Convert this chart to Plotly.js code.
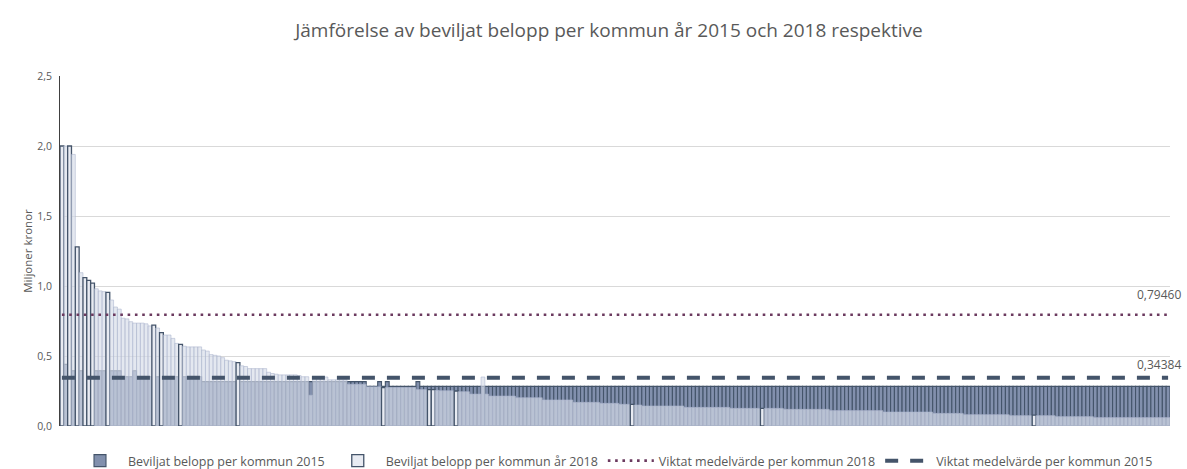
<!DOCTYPE html>
<html>
<head>
<meta charset="utf-8">
<script src="https://cdn.plot.ly/plotly-3.0.1.min.js"></script>
<style>html,body{margin:0;padding:0;background:#fff}#chart{width:1187px;height:469px}</style>
</head>
<body>
<div id="chart"></div>
<script>
// Beviljat belopp per kommun år 2018 (miljoner kronor), 290 kommuner i diagrammets ordning
const belopp2018 = [
  2.00, 2.00, 2.00, 1.94, 1.28, 1.095, 1.06, 1.04, 1.02, 0.98,
  0.965, 0.96, 0.955, 0.90, 0.85, 0.835, 0.77, 0.765, 0.745, 0.735,
  0.735, 0.735, 0.73, 0.715, 0.72, 0.70, 0.667, 0.65, 0.65, 0.626,
  0.59, 0.583, 0.57, 0.565, 0.565, 0.565, 0.565, 0.543, 0.535, 0.51,
  0.505, 0.50, 0.488, 0.47, 0.465, 0.46, 0.452, 0.43, 0.425, 0.41,
  0.41, 0.41, 0.41, 0.41, 0.384, 0.375, 0.37, 0.365, 0.365, 0.365,
  0.365, 0.365, 0.36, 0.352, 0.352, 0.22, 0.35, 0.35, 0.35, 0.35,
  0.33, 0.33, 0.33, 0.33, 0.33, 0.298, 0.298, 0.298, 0.298, 0.298,
  0.28, 0.28, 0.28, 0.28, 0.275, 0.275, 0.275, 0.275, 0.275, 0.275,
  0.275, 0.275, 0.275, 0.26, 0.26, 0.26, 0.26, 0.26, 0.255, 0.252,
  0.252, 0.252, 0.252, 0.25, 0.245, 0.245, 0.245, 0.228, 0.228, 0.228,
  0.35, 0.228, 0.214, 0.214, 0.214, 0.214, 0.214, 0.214, 0.214, 0.202,
  0.202, 0.202, 0.202, 0.202, 0.202, 0.202, 0.186, 0.186, 0.186, 0.186,
  0.186, 0.186, 0.186, 0.186, 0.169, 0.169, 0.169, 0.169, 0.169, 0.169,
  0.169, 0.162, 0.162, 0.162, 0.162, 0.162, 0.155, 0.155, 0.155, 0.155,
  0.15, 0.15, 0.143, 0.143, 0.143, 0.143, 0.143, 0.143, 0.143, 0.143,
  0.143, 0.143, 0.143, 0.133, 0.133, 0.133, 0.133, 0.133, 0.133, 0.133,
  0.133, 0.133, 0.133, 0.133, 0.133, 0.126, 0.126, 0.126, 0.126, 0.126,
  0.126, 0.126, 0.126, 0.126, 0.126, 0.126, 0.126, 0.126, 0.126, 0.119,
  0.119, 0.119, 0.119, 0.119, 0.119, 0.119, 0.119, 0.119, 0.119, 0.119,
  0.119, 0.11, 0.11, 0.11, 0.11, 0.11, 0.11, 0.11, 0.11, 0.11,
  0.11, 0.11, 0.11, 0.11, 0.11, 0.10, 0.10, 0.10, 0.10, 0.10,
  0.10, 0.10, 0.10, 0.10, 0.10, 0.10, 0.10, 0.10, 0.09, 0.09,
  0.09, 0.09, 0.09, 0.09, 0.09, 0.09, 0.081, 0.081, 0.081, 0.081,
  0.081, 0.081, 0.081, 0.081, 0.081, 0.081, 0.081, 0.081, 0.074, 0.074,
  0.074, 0.074, 0.074, 0.074, 0.078, 0.074, 0.074, 0.074, 0.074, 0.074,
  0.067, 0.067, 0.067, 0.067, 0.067, 0.067, 0.067, 0.067, 0.067, 0.067,
  0.06, 0.06, 0.06, 0.06, 0.06, 0.06, 0.06, 0.06, 0.06, 0.06,
  0.06, 0.06, 0.06, 0.06, 0.06, 0.06, 0.06, 0.06, 0.06, 0.06
];

// Beviljat belopp per kommun år 2015 (miljoner kronor), samma ordning
const belopp2015 = [
  0.44, 0.44, 0.44, 0.395, 0.395, 0.395, 0.395, 0.395, 0.395, 0.395,
  0.395, 0.395, 0.395, 0.395, 0.395, 0.395, 0.352, 0.352, 0.352, 0.395,
  0.352, 0.352, 0.352, 0.352, 0.352, 0.352, 0.352, 0.352, 0.352, 0.352,
  0.352, 0.352, 0.352, 0.352, 0.352, 0.352, 0.352, 0.317, 0.317, 0.317,
  0.317, 0.317, 0.317, 0.317, 0.317, 0.317, 0.317, 0.317, 0.317, 0.317,
  0.317, 0.317, 0.317, 0.317, 0.317, 0.317, 0.317, 0.317, 0.317, 0.317,
  0.317, 0.317, 0.317, 0.317, 0.317, 0.317, 0.317, 0.317, 0.317, 0.317,
  0.317, 0.317, 0.317, 0.317, 0.317, 0.317, 0.317, 0.317, 0.317, 0.317,
  0.283, 0.283, 0.283, 0.317, 0.283, 0.317, 0.283, 0.283, 0.283, 0.283,
  0.283, 0.283, 0.283, 0.317, 0.283, 0.283, 0.283, 0.283, 0.283, 0.283,
  0.283, 0.283, 0.283, 0.283, 0.283, 0.283, 0.283, 0.283, 0.283, 0.283,
  0.283, 0.283, 0.283, 0.283, 0.283, 0.283, 0.283, 0.283, 0.283, 0.283,
  0.283, 0.283, 0.283, 0.283, 0.283, 0.283, 0.283, 0.283, 0.283, 0.283,
  0.283, 0.283, 0.283, 0.283, 0.283, 0.283, 0.283, 0.283, 0.283, 0.283,
  0.283, 0.283, 0.283, 0.283, 0.283, 0.283, 0.283, 0.283, 0.283, 0.283,
  0.283, 0.283, 0.283, 0.283, 0.283, 0.283, 0.283, 0.283, 0.283, 0.283,
  0.283, 0.283, 0.283, 0.283, 0.283, 0.283, 0.283, 0.283, 0.283, 0.283,
  0.283, 0.283, 0.283, 0.283, 0.283, 0.283, 0.283, 0.283, 0.283, 0.283,
  0.283, 0.283, 0.283, 0.283, 0.283, 0.283, 0.283, 0.283, 0.283, 0.283,
  0.283, 0.283, 0.283, 0.283, 0.283, 0.283, 0.283, 0.283, 0.283, 0.283,
  0.283, 0.283, 0.283, 0.283, 0.283, 0.283, 0.283, 0.283, 0.283, 0.283,
  0.283, 0.283, 0.283, 0.283, 0.283, 0.283, 0.283, 0.283, 0.283, 0.283,
  0.283, 0.283, 0.283, 0.283, 0.283, 0.283, 0.283, 0.283, 0.283, 0.283,
  0.283, 0.283, 0.283, 0.283, 0.283, 0.283, 0.283, 0.283, 0.283, 0.283,
  0.283, 0.283, 0.283, 0.283, 0.283, 0.283, 0.283, 0.283, 0.283, 0.283,
  0.283, 0.283, 0.283, 0.283, 0.283, 0.283, 0.283, 0.283, 0.283, 0.283,
  0.283, 0.283, 0.283, 0.283, 0.283, 0.283, 0.283, 0.283, 0.283, 0.283,
  0.283, 0.283, 0.283, 0.283, 0.283, 0.283, 0.283, 0.283, 0.283, 0.283,
  0.283, 0.283, 0.283, 0.283, 0.283, 0.283, 0.283, 0.283, 0.283, 0.283
];

// Kommuner (position i ordningen, 1-baserad) som är markerade med kantlinje i diagrammet
const markeradeKommuner = [1, 3, 5, 7, 8, 9, 13, 25, 27, 32, 47, 85, 97, 98, 104, 150, 184, 255];

// Viktade medelvärden per kommun
const medel2018 = 0.79460;
const medel2015 = 0.34384;

const serieNamn = [
  'Beviljat belopp per kommun 2015',
  'Beviljat belopp per kommun år 2018',
  'Viktat medelvärde per kommun 2018',
  'Viktat medelvärde per kommun 2015'
];
const titel = 'Jämförelse av beviljat belopp per kommun år 2015 och 2018 respektive';
const yTitel = 'Miljoner kronor';

const kommuner = belopp2018.map((_, i) => i + 1);
const markerad = kommuner.map(k => markeradeKommuner.includes(k));
const fmt = v => v.toFixed(5).replace('.', ',');

const FONT = '"Open Sans", Lato, sans-serif';
const GRAY = '#595959';

const traces = [
  {
    type: 'bar', name: serieNamn[0], x: kommuner, y: belopp2015,
    marker: { color: '#8290ad', line: { color: '#44546a', width: 1.1 } },
    hoverinfo: 'skip'
  },
  {
    type: 'bar', name: serieNamn[1], x: kommuner, y: belopp2018,
    marker: {
      color: markerad.map(m => m ? '#e8ebf2' : 'rgba(214,220,232,0.66)'),
      line: {
        color: markerad.map(m => m ? '#44546a' : 'rgba(170,180,205,0.8)'),
        width: markerad.map(m => m ? 1.3 : 0.7)
      }
    },
    hoverinfo: 'skip'
  },
  {
    type: 'scatter', mode: 'lines', name: serieNamn[2], x: kommuner,
    y: kommuner.map(() => medel2018),
    line: { color: '#6b3a5f', width: 2.6, dash: '2.6px,4.7px' },
    hoverinfo: 'skip'
  },
  {
    type: 'scatter', mode: 'lines', name: serieNamn[3], x: kommuner,
    y: kommuner.map(() => medel2015),
    line: { color: '#44546a', width: 4, dash: '13px,12px' },
    hoverinfo: 'skip'
  }
];

const layout = {
  width: 1187, height: 469,
  margin: { l: 60, r: 17, t: 76, b: 43, autoexpand: false },
  paper_bgcolor: '#ffffff', plot_bgcolor: '#ffffff',
  separators: ', ',
  barmode: 'overlay', bargap: 0,
  font: { family: FONT, color: GRAY, size: 12 },
  title: {
    text: titel, x: 0.513, xanchor: 'center', y: 0.935, yanchor: 'middle',
    font: { family: FONT, size: 19, color: GRAY }
  },
  xaxis: {
    range: [0.5, kommuner.length + 0.5], showticklabels: false, showgrid: false,
    zeroline: false, ticks: '', showline: false, fixedrange: true
  },
  yaxis: {
    range: [0, 2.5], dtick: 0.5, tick0: 0, tickformat: '.1f',
    showgrid: true, gridcolor: '#d9d9d9', gridwidth: 1,
    zeroline: false, showline: true, linecolor: '#404040', linewidth: 1,
    ticks: '', ticklabelstandoff: 5, tickfont: { family: FONT, size: 10.5, color: GRAY },
    title: { text: yTitel, font: { family: FONT, size: 11.5, color: GRAY }, standoff: 2 }
  },
  legend: {
    orientation: 'h', x: 0.5, xanchor: 'center', y: -0.1, yanchor: 'middle',
    font: { family: FONT, size: 12.5, color: GRAY }, itemwidth: 46,
    traceorder: 'normal', tracegroupgap: 0
  },
  annotations: [
    { x: kommuner.length, y: medel2018, text: fmt(medel2018), showarrow: false,
      xanchor: 'center', yanchor: 'middle', xshift: -9, yshift: 20,
      font: { family: FONT, size: 12, color: GRAY } },
    { x: kommuner.length, y: medel2015, text: fmt(medel2015), showarrow: false,
      xanchor: 'center', yanchor: 'middle', xshift: -9, yshift: 13,
      font: { family: FONT, size: 12, color: GRAY } }
  ],
  showlegend: true
};

Plotly.newPlot('chart', traces, layout, { displayModeBar: false, staticPlot: true });
</script>
</body>
</html>
